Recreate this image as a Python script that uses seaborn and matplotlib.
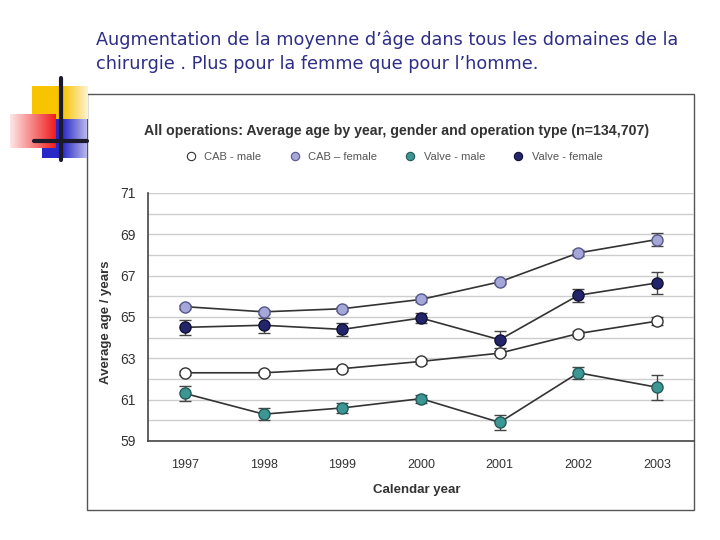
import matplotlib
matplotlib.use("Agg")
import numpy as np
import matplotlib.pyplot as plt
import seaborn as sns
from matplotlib.lines import Line2D
from matplotlib.patches import Rectangle
from matplotlib.colors import to_rgb
from matplotlib.ticker import FixedLocator

# data
years = [1997, 1998, 1999, 2000, 2001, 2002, 2003]
cab_male = [62.3, 62.3, 62.5, 62.85, 63.25, 64.2, 64.8]
cab_female = [65.5, 65.25, 65.4, 65.85, 66.7, 68.1, 68.75]
valve_male = [61.3, 60.3, 60.6, 61.05, 59.9, 62.3, 61.6]
valve_female = [64.5, 64.6, 64.4, 64.95, 63.9, 66.05, 66.65]

cab_male_err = [0.1, 0.1, 0.1, 0.1, 0.1, 0.1, 0.2]
cab_female_err = [0.1, 0.1, 0.1, 0.1, 0.1, 0.15, 0.3]
valve_male_err = [0.35, 0.3, 0.25, 0.2, 0.35, 0.3, 0.6]
valve_female_err = [0.35, 0.35, 0.3, 0.25, 0.4, 0.3, 0.55]

series_names = ["CAB - male", "CAB \u2013 female", "Valve - male", "Valve - female"]
year_labels = ["1997", "1998", "1999", "2000", "2001", "2002", "2003"]
y_ticks = [59, 61, 63, 65, 67, 69, 71]

sns.set_style("white")
plt.rcParams["font.family"] = ["Liberation Sans", "DejaVu Sans"]

fig = plt.figure(figsize=(7.2, 5.4), dpi=100)

# slide title
fig.text(96 / 720, 1 - 40 / 540,
         "Augmentation de la moyenne d\u2019\u00e2ge dans tous les domaines de la",
         fontsize=12.7, color="#2e2e86", va="center", family=["DejaVu Sans"])
fig.text(96 / 720, 1 - 64 / 540,
         "chirurgie . Plus pour la femme que pour l\u2019homme.",
         fontsize=12.7, color="#2e2e86", va="center", family=["DejaVu Sans"])


# slide decoration (top left), gradient blocks
def deco_block(x0, y0, x1, y1, c_left, c_right, start=0.0):
    a = fig.add_axes([x0 / 720, 1 - y1 / 540, (x1 - x0) / 720, (y1 - y0) / 540])
    t = np.clip((np.linspace(0, 1, 60) - start) / (1 - start), 0, 1)
    cl, cr = np.array(to_rgb(c_left)), np.array(to_rgb(c_right))
    img = cl[None, None, :] * (1 - t)[None, :, None] + cr[None, None, :] * t[None, :, None]
    a.imshow(np.repeat(img, 2, axis=0), aspect="auto", interpolation="bilinear")
    a.set_axis_off()
    return a


deco_block(32, 86, 87, 119, "#f8c400", "#fdf2d0", start=0.55)
deco_block(42, 119, 87, 158, "#2828c8", "#b8b8ea", start=0.45)
deco_block(10, 114, 55, 148, "#fde6e6", "#f01c1c")
fig.lines.append(Line2D([61 / 720, 61 / 720], [1 - 78 / 540, 1 - 160 / 540],
                        transform=fig.transFigure, color="#1a1a2a", lw=3, zorder=5))
fig.lines.append(Line2D([34 / 720, 87 / 720], [1 - 141 / 540, 1 - 141 / 540],
                        transform=fig.transFigure, color="#1a1a2a", lw=3, zorder=5))

# scanned image frame
fig.patches.append(Rectangle((87 / 720, 1 - 510 / 540), 607 / 720, 416 / 540,
                             transform=fig.transFigure, facecolor="white",
                             edgecolor="#555555", lw=1, zorder=-1))

ax = fig.add_axes([148 / 720, 1 - 441 / 540, 546 / 720, 248 / 540])
ax.set_facecolor("none")
ax.set_zorder(2)

styles = [
    (cab_male, cab_male_err, "white", "#333333"),
    (cab_female, cab_female_err, "#a4a7d8", "#55588a"),
    (valve_male, valve_male_err, "#3b9694", "#245a59"),
    (valve_female, valve_female_err, "#23256b", "#111133"),
]

for vals, err, fc, ec in styles:
    ax.errorbar(years, vals, yerr=err, fmt="none", ecolor="#444444",
                elinewidth=1, capsize=4, capthick=1, zorder=3)
    sns.lineplot(x=years, y=vals, ax=ax, color="#333333", lw=1.2,
                 marker="o", markersize=8, markerfacecolor=fc,
                 markeredgecolor=ec, markeredgewidth=1, zorder=4)

ax.set_xlim(1996.53, 2003.47)
ax.set_ylim(59, 71)
ax.yaxis.set_major_locator(FixedLocator(y_ticks))
ax.yaxis.set_minor_locator(FixedLocator([t + 1 for t in y_ticks[:-1]]))
ax.grid(axis="y", which="both", color="#cdcdcd", lw=1)
ax.set_axisbelow(True)

ax.set_xticks(years)
ax.set_xticklabels(year_labels)
ax.xaxis.set_minor_locator(FixedLocator([y + 0.5 for y in years[:-1]]))
ax.tick_params(axis="x", which="major", length=0, pad=13, labelsize=9, labelcolor="#333333")
ax.tick_params(axis="x", which="minor", direction="in", length=4, width=1, color="#444444")
ax.tick_params(axis="y", which="both", length=0, pad=9, labelsize=10, labelcolor="#333333")

for s in ("top", "right"):
    ax.spines[s].set_visible(False)
for s in ("left", "bottom"):
    ax.spines[s].set_color("#444444")
    ax.spines[s].set_linewidth(1.2)
ax.set_xlabel("")
ax.set_ylabel("")

fig.text(417 / 720, 1 - 490 / 540, "Calendar year", fontsize=9.5, fontweight="bold",
         color="#333333", ha="center", va="center")
fig.text(106 / 720, 1 - 322 / 540, "Average age / years", fontsize=9.5, fontweight="bold",
         color="#333333", ha="center", va="center", rotation=90)

fig.text(397 / 720, 1 - 131 / 540,
         "All operations: Average age by year, gender and operation type (n=134,707)",
         fontsize=10.2, fontweight="bold", color="#333333", ha="center", va="center")

handles = [Line2D([], [], ls="none", marker="o", markersize=6, markerfacecolor=fc,
                  markeredgecolor=ec, markeredgewidth=0.8)
           for _, _, fc, ec in styles]
fig.legend(handles, series_names, loc="center", bbox_to_anchor=(391 / 720, 1 - 157 / 540),
           ncol=4, frameon=False, fontsize=8, handletextpad=0.2, columnspacing=2.0,
           labelcolor="#555555")

fig.savefig("out.png", dpi=100)
